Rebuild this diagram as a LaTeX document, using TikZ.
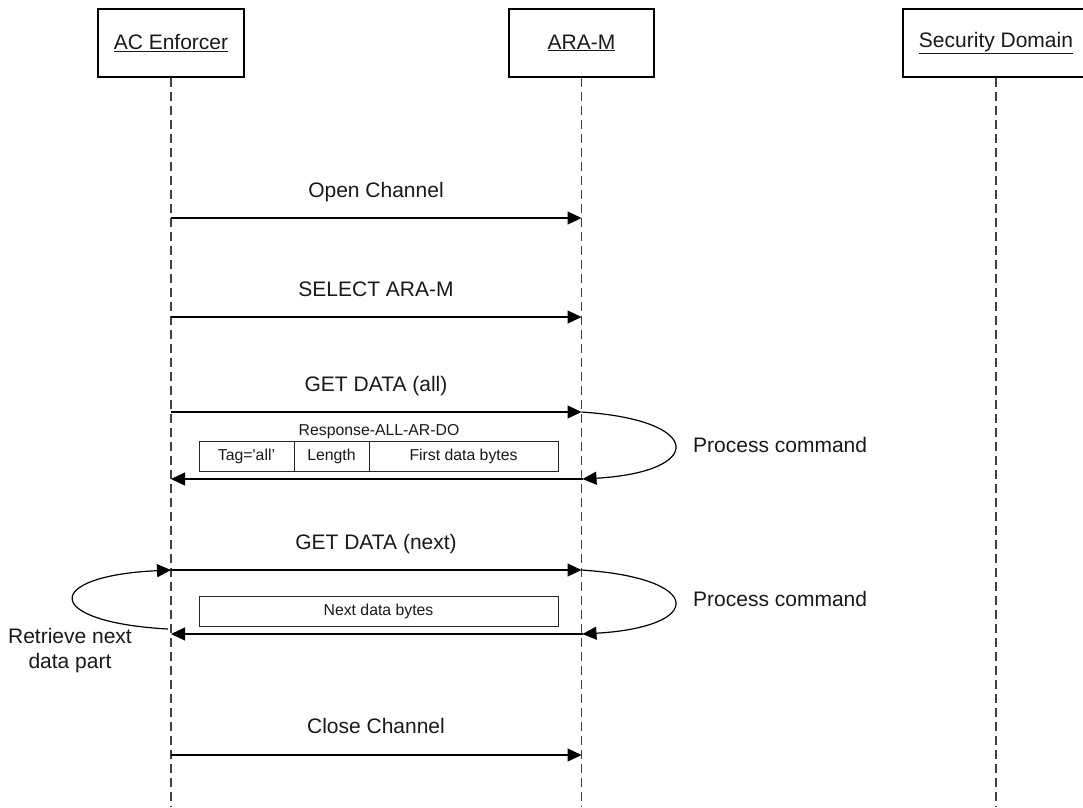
\documentclass[tikz,border=0pt]{standalone}
\usepackage{fontspec}
\setmainfont{Liberation Sans}
\usetikzlibrary{arrows.meta}
\definecolor{txt}{gray}{0.1}
\begin{document}
\begin{tikzpicture}[x=1pt,y=-1pt,
  head/.style={draw, line width=1.1pt, minimum height=68pt, inner sep=0pt, font=\fontsize{21}{25}\selectfont, text=txt},
  lifeline/.style={draw=black!75, line width=1.1pt, dash pattern=on 9pt off 5pt},
  msg/.style={line width=1.2pt, -{Triangle[length=14pt,width=13pt]}},
  lbl/.style={font=\fontsize{21}{25}\selectfont, text=txt, anchor=base, inner sep=0pt},
  cell/.style={draw=black!85, line width=0.9pt, minimum height=30pt, inner sep=0pt, font=\fontsize{15.8}{19}\selectfont, text=txt},
  smalllbl/.style={font=\fontsize{15.8}{19}\selectfont, text=txt, anchor=base, inner sep=0pt}
]
\path[use as bounding box, clip] (0,0) rectangle (1083,807);

% heads
\node[head, minimum width=146pt] (ac) at (171,43) {\underline{AC Enforcer}};
\node[head, minimum width=145pt] (ara) at (581.5,43) {\underline{ARA-M}};
\node[head, minimum width=186pt] (sd) at (996,43) {\underline{Security Domain}};

% lifelines
\coordinate (acEnd) at (171,807);
\coordinate (araEnd) at (581.5,807);
\coordinate (sdEnd) at (996,807);
\draw[lifeline] (ac.south) -- (acEnd);
\draw[lifeline] (ara.south) -- (araEnd);
\draw[lifeline] (sd.south) -- (sdEnd);

% message points
\coordinate (a1) at (171,218);   \coordinate (b1) at (581.5,218);
\coordinate (a2) at (171,317);   \coordinate (b2) at (581.5,317);
\coordinate (a3) at (171,412);   \coordinate (b3) at (581.5,412);
\coordinate (a4) at (171,479);   \coordinate (b4) at (582.5,479);
\coordinate (a5) at (171,570);   \coordinate (b5) at (581.5,570);
\coordinate (a6) at (171,634);   \coordinate (b6) at (582.5,634);
\coordinate (a7) at (171,755);   \coordinate (b7) at (581.5,755);
\coordinate (lp) at (168,629);

% messages
\draw[msg] (a1) -- (b1);
\node[lbl] (l1) at (376,197) {Open Channel};
\draw[msg] (a2) -- (b2);
\node[lbl] (l2) at (376,296) {SELECT ARA-M};
\draw[msg] (a3) -- (b3);
\node[lbl] (l3) at (376,391) {GET DATA (all)};
\draw[msg] (b4) -- (a4);
\draw[msg] (a5) -- (b5);
\node[lbl] (l5) at (376,549) {GET DATA (next)};
\draw[msg] (b6) -- (a6);
\draw[msg] (a7) -- (b7);
\node[lbl] (l7) at (376,733) {Close Channel};

% response structure
\node[smalllbl] (resp) at (379,435) {Response-ALL-AR-DO};
\node[cell, minimum width=95pt] (c1) at (246.5,456) {Tag=\textquotesingle all’};
\node[cell, minimum width=75pt] (c2) at (331.5,456) {Length};
\node[cell, minimum width=189pt] (c3) at (463.5,456) {First data bytes};
\node[cell, minimum width=359pt] (nd) at (378.5,611) {Next data bytes};

% loops
\draw[msg] (b3) .. controls (705,420) and (705,472) .. (b4);
\node[lbl, anchor=base west] (p1) at (693,452) {Process command};
\draw[msg] (b5) .. controls (705,578) and (705,627) .. (b6);
\node[lbl, anchor=base west] (p2) at (693,606) {Process command};
\draw[msg] (lp) .. controls (42,622) and (42,576) .. (a5);
\node[lbl, align=center] (rt) at (70,668) {Retrieve next\\data part};
\end{tikzpicture}
\end{document}
